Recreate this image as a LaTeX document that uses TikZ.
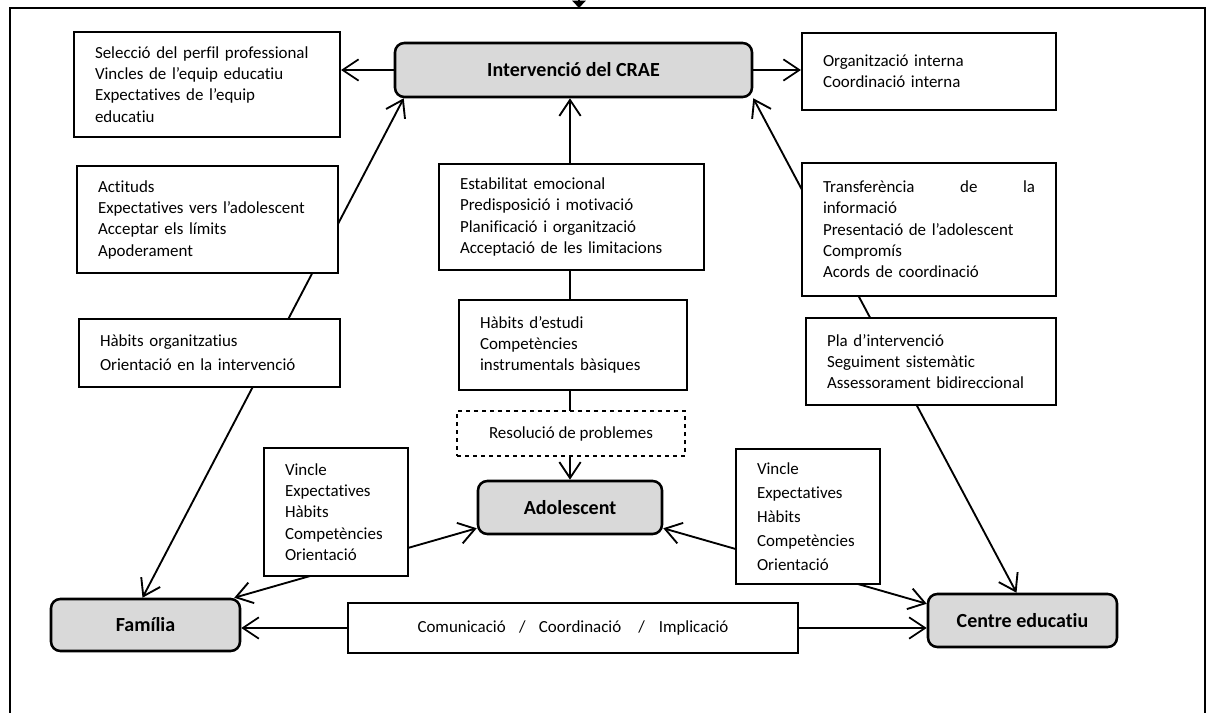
\documentclass[tikz,border=0pt]{standalone}
\usepackage{fontspec}
\setmainfont{Carlito}[Ligatures=CommonOff]
\usetikzlibrary{positioning, calc, arrows.meta, backgrounds}

\begin{document}
\begin{tikzpicture}[x=0.75pt, y=-0.75pt, >={Straight Barb[length=12pt,width=16pt]},
    font=\fontsize{12.7}{16}\selectfont,
    keybox/.style={draw, rounded corners=7pt, fill=keygray, line width=1.9pt, font=\fontsize{15}{17}\selectfont\bfseries},
    txtbox/.style={draw, fill=white, line width=1.6pt, align=left, inner xsep=15.75pt},
    link/.style={<->, line width=1.4pt},
    arr/.style={->, line width=1.3pt}]
        % Define colors
        \definecolor{keygray}{RGB}{217,217,217}

        \useasboundingbox (0,0) rectangle (1208,713);

        % Frame
        \draw[line width=1.6pt] (10,713) -- (10,8) -- (1205,8) -- (1205,713);
        \coordinate (frametop) at (579,8);
        \coordinate (frameabove) at (579,-12);
        \draw[-{Triangle[length=5.5pt,width=10pt]}, line width=1.1pt] (frameabove) -- (frametop);

        % Main nodes
        \node[keybox, minimum width=267.75pt, minimum height=40.5pt] (crae) at (573.5,70) {Intervenció del CRAE};
        \node[keybox, minimum width=141.75pt, minimum height=39pt] (fam) at (145.5,625) {Família};
        \node[keybox, minimum width=138pt, minimum height=39.75pt] (adol) at (570,507.5) {Adolescent};
        \node[keybox, minimum width=141.75pt, minimum height=39.75pt] (centre) at (1022.5,620.5) {Centre educatiu};

        % Text boxes
        \node[txtbox, text width=168pt, minimum height=78.75pt] (sel) at (207,84.5)
            {Selecció del perfil professional\\Vincles de l’equip educatiu\\Expectatives de l’equip\\educatiu};
        \node[txtbox, text width=164.25pt, minimum height=80.25pt] (act) at (207.5,219.5)
            {Actituds\\Expectatives vers l’adolescent\\Acceptar els límits\\Apoderament};
        \node[txtbox, text width=164.25pt, minimum height=51pt, font=\fontsize{12.7}{18}\selectfont] (horg) at (209.5,353)
            {Hàbits organitzatius\\Orientació en la intervenció};
        \node[txtbox, text width=167.25pt, minimum height=79.5pt] (est) at (571.5,217)
            {Estabilitat emocional\\Predisposició i motivació\\Planificació i organització\\Acceptació de les limitacions};
        \node[txtbox, text width=139.5pt, minimum height=67.5pt] (hest) at (573,345)
            {Hàbits d’estudi\\Competències\\instrumentals bàsiques};
        \node[draw, dashed, fill=white, line width=0.9pt, minimum width=171pt, minimum height=33.75pt] (resol) at (571,433.5)
            {Resolució de problemes};
        \node[txtbox, text width=159pt, minimum height=57.75pt] (org) at (929,71.5)
            {Organització interna\\Coordinació interna};
        \node[txtbox, text width=159pt, minimum height=99.75pt] (trans) at (929,229.5)
            {Transferència\hfill de\hfill la\\informació\\Presentació de l’adolescent\\Compromís\\Acords de coordinació};
        \node[txtbox, text width=156pt, minimum height=65.25pt] (pla) at (931,361.5)
            {Pla d’intervenció\\Seguiment sistemàtic\\Assessorament bidireccional};
        \node[txtbox, text width=76.5pt, minimum height=96pt] (vincfam) at (336,512)
            {Vincle\\Expectatives\\Hàbits\\Competències\\Orientació};
        \node[txtbox, text width=76.5pt, minimum height=101.25pt, font=\fontsize{12.7}{18}\selectfont] (vinccen) at (808,516.5)
            {Vincle\\Expectatives\\Hàbits\\Competències\\Orientació};
        \node[txtbox, align=center, minimum width=337.5pt, minimum height=37.5pt] (comm) at (573,628)
            {Comunicació\hspace{10pt}/\hspace{10pt}Coordinació\hspace{12.75pt}/\hspace{10.5pt}Implicació};

        % Edges
        \begin{scope}[on background layer]
            \draw[link] ($(fam.north)+(-3,0)$) -- ($(crae.south west)+(10,0)$);
            \draw[link] ($(centre.north)+(-6,0)$) -- (crae.south east);
            \draw[link] (adol.north) -- (adol.north |- crae.south);
            \draw[link] ($(fam.north east)+(-7,0)$) -- ($(adol.south west)+(0,-7)$);
            \draw[link] ($(adol.south east)+(0,-7)$) -- ($(centre.north west)+(0,11)$);
        \end{scope}
        \draw[arr] (crae.west) -- (crae.west -| sel.east);
        \draw[arr] (crae.east) -- (crae.east -| org.west);
        \draw[arr] (comm.west) -- (comm.west -| fam.east);
        \draw[arr] (comm.east) -- (comm.east -| centre.west);
\end{tikzpicture}
\end{document}
